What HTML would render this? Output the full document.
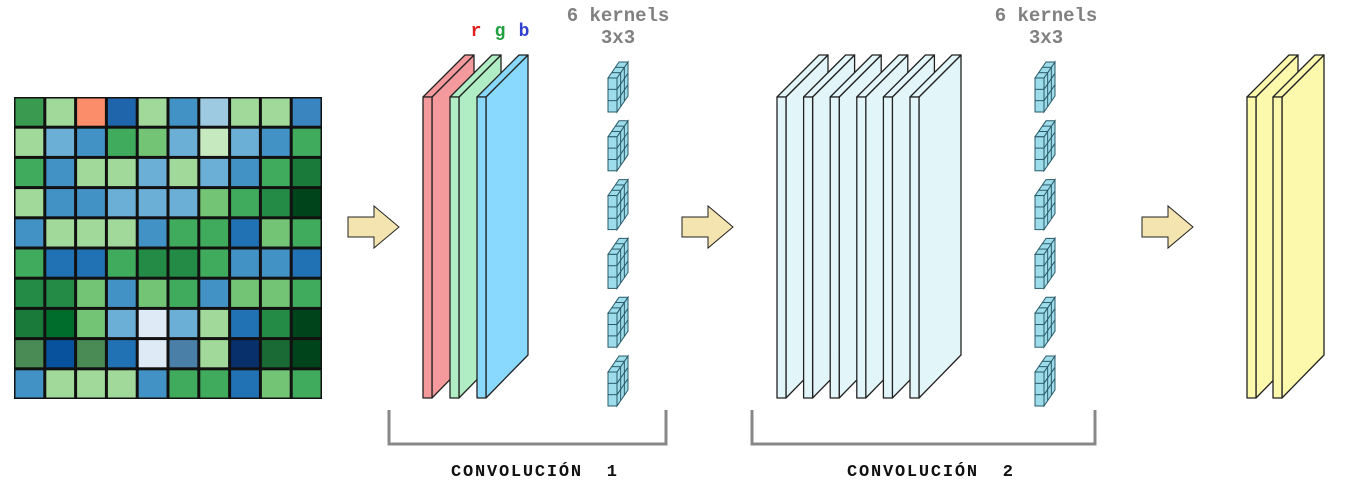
<!DOCTYPE html>
<html><head><meta charset="utf-8"><style>
html,body{margin:0;padding:0;background:#fff;}
svg{display:block;}
text{font-family:"Liberation Mono",monospace;font-weight:bold;}
</style></head><body>
<svg id="s" width="1347" height="498" viewBox="0 0 1347 498">
<g id="grid"></g>
<g id="layers"></g>
<text x="476" y="36" fill="#e02020" font-size="18" text-anchor="middle">r</text>
<text x="500" y="36" fill="#20a040" font-size="18" text-anchor="middle">g</text>
<text x="524" y="36" fill="#3040d0" font-size="18" text-anchor="middle">b</text>
<text x="618" y="21" fill="#808080" font-size="19" text-anchor="middle">6 kernels</text>
<text x="618" y="43" fill="#808080" font-size="19" text-anchor="middle">3x3</text>
<text x="1046" y="21" fill="#808080" font-size="19" text-anchor="middle">6 kernels</text>
<text x="1046" y="43" fill="#808080" font-size="19" text-anchor="middle">3x3</text>
<path d="M389 410 V444 H666 V410" fill="none" stroke="#888" stroke-width="3"/>
<path d="M752 410 V444 H1095 V410" fill="none" stroke="#888" stroke-width="3"/>
<text x="451" y="476" fill="#111" font-size="17" textLength="166" lengthAdjust="spacing" xml:space="preserve">CONVOLUCIÓN  1</text>
<text x="847" y="476" fill="#111" font-size="17" textLength="166" lengthAdjust="spacing" xml:space="preserve">CONVOLUCIÓN  2</text>
</svg>
<script>
const gridColors = [
["#3a9a50","#a1d99b","#fc8d6b","#1f65ab","#a1d99b","#4292c6","#9ecae1","#a1d99b","#a1d99b","#3a85c0"],
["#a1d99b","#6baed6","#4292c6","#41ab5d","#74c476","#6baed6","#c7e9c0","#6baed6","#4292c6","#41ab5d"],
["#41ab5d","#4292c6","#a1d99b","#a1d99b","#6baed6","#a1d99b","#6baed6","#4292c6","#41ab5d","#1a7a3a"],
["#a1d99b","#4292c6","#4292c6","#6baed6","#6baed6","#6baed6","#74c476","#41ab5d","#238b45","#00441b"],
["#4292c6","#a1d99b","#a1d99b","#a1d99b","#4292c6","#41ab5d","#41ab5d","#2171b5","#74c476","#41ab5d"],
["#41ab5d","#2171b5","#2171b5","#41ab5d","#238b45","#238b45","#41ab5d","#4292c6","#4292c6","#2171b5"],
["#238b45","#238b45","#74c476","#4292c6","#74c476","#41ab5d","#4292c6","#74c476","#74c476","#41ab5d"],
["#1a7a3a","#006d2c","#74c476","#6baed6","#deebf7","#6baed6","#a1d99b","#2171b5","#238b45","#00441b"],
["#4a8a55","#08519c","#4a8a55","#2171b5","#deebf7","#4a80a8","#a1d99b","#08306b","#1a6a35","#00441b"],
["#4292c6","#a1d99b","#a1d99b","#a1d99b","#4292c6","#41ab5d","#41ab5d","#2171b5","#74c476","#41ab5d"]
];
const conv1Planes = ["#f59a9c","#b0edc4","#89d8fd"];
const conv2Planes = ["#e2f6fa","#e2f6fa","#e2f6fa","#e2f6fa","#e2f6fa","#e2f6fa"];
const outPlanes = ["#fcf8ac","#fcf8ac"];
const kernelCount = 6;

const NS="http://www.w3.org/2000/svg";
function mk(tag,attrs,parent){const e=document.createElementNS(NS,tag);for(const k in attrs)e.setAttribute(k,attrs[k]);parent.appendChild(e);return e;}
const grid=document.getElementById('grid');
const gx=14,gy=97,cw=30.8,ch=30.2;
mk('rect',{x:gx,y:gy,width:cw*10,height:ch*10,fill:'#111'},grid);
gridColors.forEach((row,r)=>row.forEach((c,k)=>{
  const e=mk('rect',{x:gx+k*cw+1.5,y:gy+r*ch+1.5,width:cw-3,height:ch-3,fill:c},grid);
  
  
}));
const L=document.getElementById('layers');
function slab(x0,color,name){
  const g=mk('g',{},L);
  
  
  const st={stroke:'#222','stroke-width':1.3,'stroke-linejoin':'round'};
  mk('polygon',Object.assign({points:`${x0+9},97 ${x0+51},55 ${x0+51},355 ${x0+9},398`,fill:color},st),g);
  mk('polygon',Object.assign({points:`${x0},97 ${x0+9},97 ${x0+51},55 ${x0+42},55`,fill:color},st),g);
  mk('rect',Object.assign({x:x0,y:97,width:9,height:301,fill:color},st),g);
}
conv1Planes.forEach((c,i)=>slab(423+i*27,c,'input-channel-plane'));
conv2Planes.forEach((c,i)=>slab(777+i*26.6,c,'conv1-feature-map'));
outPlanes.forEach((c,i)=>slab(1247+i*26,c,'conv2-feature-map'));
function kernel(x,y){
  const g=mk('g',{},L);
  
  
  const st={stroke:'#2a5a68','stroke-width':1,fill:'#9ddcea'};
  const w=9,h=34,dx=11,dy=-16;
  mk('polygon',Object.assign({points:`${x+w},${y} ${x+w+dx},${y+dy} ${x+w+dx},${y+h+dy} ${x+w},${y+h}`},st),g);
  mk('polygon',Object.assign({points:`${x},${y} ${x+w},${y} ${x+w+dx},${y+dy} ${x+dx},${y+dy}`},st),g);
  mk('rect',Object.assign({x:x,y:y,width:w,height:h},st),g);
  for(let i=1;i<3;i++){
    mk('line',{x1:x,y1:y+h*i/3,x2:x+w,y2:y+h*i/3,stroke:'#2a5a68'},g);
    mk('line',{x1:x+w,y1:y+h*i/3,x2:x+w+dx,y2:y+h*i/3+dy,stroke:'#2a5a68'},g);
    mk('line',{x1:x+w+dx*i/3,y1:y+dy*i/3,x2:x+w+dx*i/3,y2:y+h+dy*i/3,stroke:'#2a5a68'},g);
    mk('line',{x1:x+dx*i/3,y1:y+dy*i/3,x2:x+w+dx*i/3,y2:y+dy*i/3,stroke:'#2a5a68'},g);
  }
}
for(let i=0;i<kernelCount;i++){kernel(608,78+i*58.8);kernel(1035,78+i*58.8);}
function arrow(x){
  const p=mk('polygon',{points:`${x},217 ${x+26},217 ${x+26},206 ${x+51},227 ${x+26},248 ${x+26},237 ${x},237`,fill:'#f3e4b0',stroke:'#222','stroke-width':1},L);
  
  
}
[348,682,1142].forEach(arrow);
</script>
</body></html>
